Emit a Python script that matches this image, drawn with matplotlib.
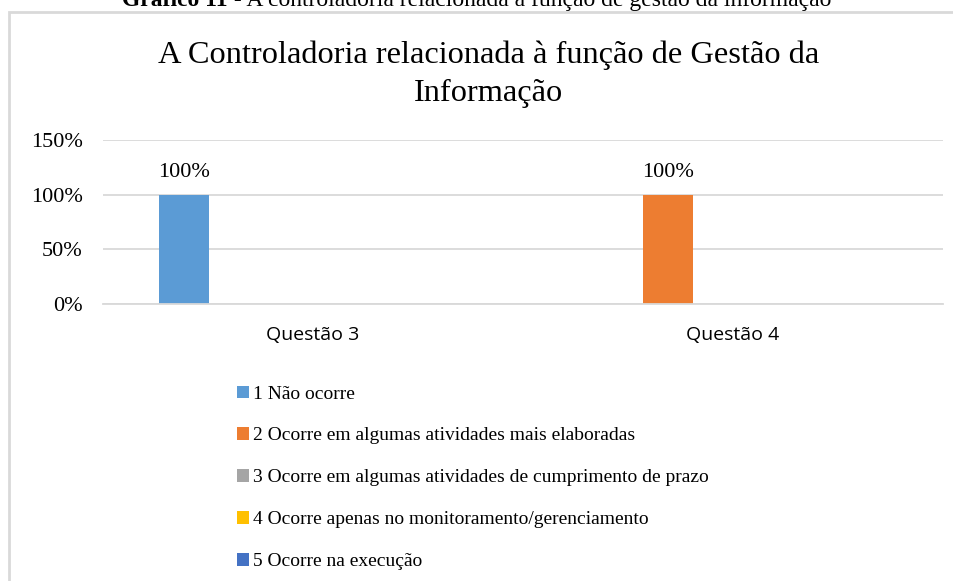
import matplotlib.pyplot as plt
from matplotlib.patches import Rectangle

questoes = ['Questão 3', 'Questão 4']
respostas = ['1 Não ocorre',
             '2 Ocorre em algumas atividades mais elaboradas',
             '3 Ocorre em algumas atividades de cumprimento de prazo',
             '4 Ocorre apenas no monitoramento/gerenciamento',
             '5 Ocorre na execução']
# share of answers per option, one list per option (Questão 3, Questão 4)
valores = [[1.0, 0.0],
           [0.0, 1.0],
           [0.0, 0.0],
           [0.0, 0.0],
           [0.0, 0.0]]
cores = ['#5b9bd5', '#ed7d31', '#a5a5a5', '#ffc000', '#4472c4']
yticks = [0, 0.5, 1.0, 1.5]
ytick_labels = ['0%', '50%', '100%', '150%']

serif = 'Liberation Serif'
W, H = 954, 581

fig = plt.figure(figsize=(W / 100, H / 100), dpi=100)

# outer chart frame (only top and left visible in the crop)
fig.add_artist(Rectangle((9 / W, -0.2), 1.2, 1.2 - 12 / H,
                         transform=fig.transFigure, fill=False,
                         edgecolor='#d9d9d9', lw=2))

# caption of the figure, partly cut by the top of the page
fig.text(228 / W, 1 - 6 / H, 'Gráfico 11', fontfamily=serif, fontweight='bold',
         fontsize=17, ha='right', va='baseline')
fig.text(228 / W, 1 - 6 / H, ' - A controladoria relacionada à função de gestão da informação',
         fontfamily=serif, fontsize=17, ha='left', va='baseline')

fig.text(489 / W, 1 - 101 / H, 'A Controladoria relacionada à função de Gestão da\nInformação',
         fontfamily=serif, fontsize=23.3, ha='center', va='baseline',
         linespacing=1.4, multialignment='center')

ax = fig.add_axes([103 / W, 1 - 304 / H, 840 / W, 164 / H])

x = range(len(questoes))
passo = 0.1536
larg = 0.119
for k, (nome, vals, cor) in enumerate(zip(respostas, valores, cores)):
    pos = [i + (k - 2) * passo for i in x]
    barras = ax.bar(pos, vals, width=larg, color=cor, label=nome)
    ax.bar_label(barras, labels=['{:.0%}'.format(v) if v else '' for v in vals],
                 padding=9, fontfamily=serif, fontsize=16)

ax.set_xlim(-0.5, 1.5)
ax.set_ylim(0, 1.5)
ax.set_yticks(yticks)
ax.set_yticklabels(ytick_labels, fontfamily=serif, fontsize=16)
ax.set_xticks(list(x))
ax.set_xticklabels(questoes, fontfamily='Open Sans', fontsize=14)
ax.tick_params(length=0)
ax.tick_params(axis='y', pad=14.5)
ax.tick_params(axis='x', pad=16)
ax.grid(axis='y', color='#d9d9d9', lw=1.3)
ax.set_axisbelow(True)
for s in ['top', 'right', 'left']:
    ax.spines[s].set_visible(False)
ax.spines['bottom'].set_color('#d9d9d9')
ax.spines['bottom'].set_linewidth(1.3)

fig.legend(loc='upper left', bbox_to_anchor=(220 / W, 1 - 368 / H),
           frameon=False, prop={'family': serif, 'size': 14},
           handlelength=0.6, handleheight=0.6, handletextpad=0.2,
           labelspacing=1.28)

fig.savefig('out.png', dpi=100)
